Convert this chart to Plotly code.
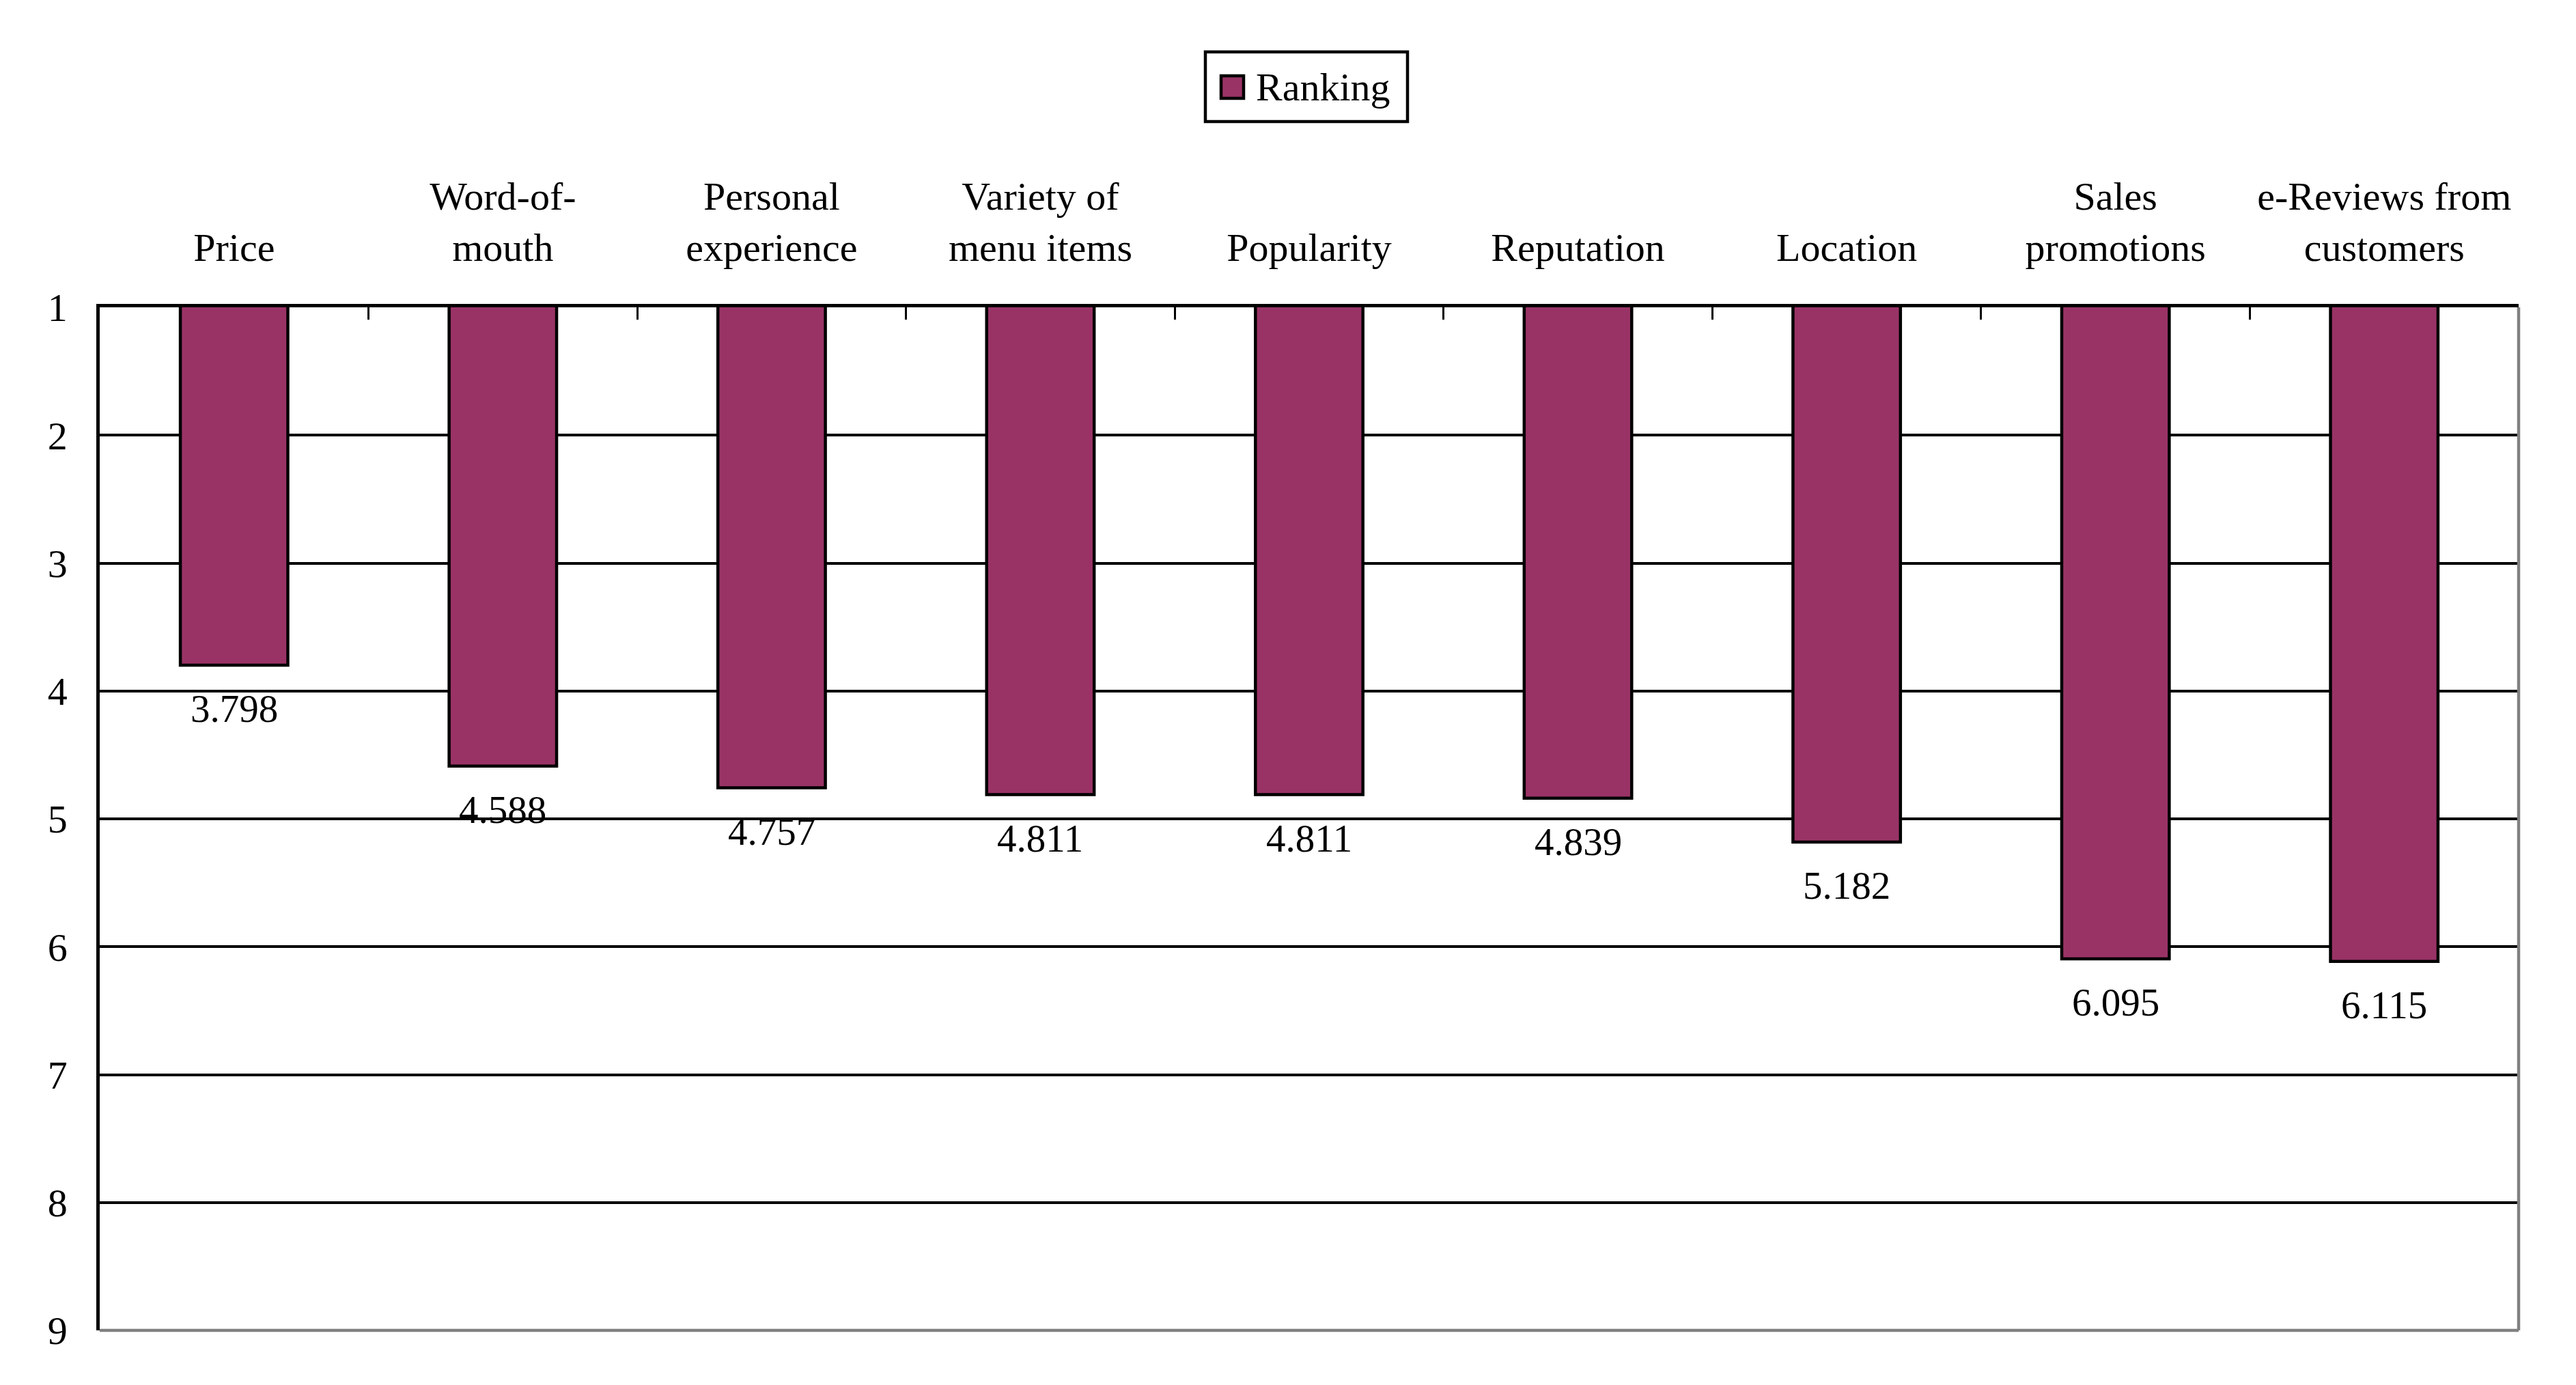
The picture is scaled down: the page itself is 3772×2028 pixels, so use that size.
import plotly.graph_objects as go

categories = ["Price", "Word-of-<br>mouth", "Personal<br>experience", "Variety of<br>menu items",
              "Popularity", "Reputation", "Location", "Sales<br>promotions", "e-Reviews from<br>customers"]
ranking = [3.798, 4.588, 4.757, 4.811, 4.811, 4.839, 5.182, 6.095, 6.115]
value_labels = ["3.798", "4.588", "4.757", "4.811", "4.811", "4.839", "5.182", "6.095", "6.115"]
y_ticks = [1, 2, 3, 4, 5, 6, 7, 8, 9]

W, H = 3772, 2028
L, R, T, B = 146, 84, 450, 80
PW, PH = W - L - R, H - T - B
FONT = "Liberation Serif, Times New Roman, serif"
FS = 58
BAR = "#993366"

def px_x(x):
    return (x - L) / PW

def px_y(y):
    return (H - B - y) / PH

fig = go.Figure()
fig.add_trace(go.Bar(
    x=categories, y=ranking, name="Ranking",
    marker=dict(color=BAR, line=dict(color="black", width=4.5)),
    showlegend=False,
))

annotations = []
for c, v, t in zip(categories, ranking, value_labels):
    annotations.append(dict(x=c, y=v, xref="x", yref="y", text=t, showarrow=False,
                            yanchor="top", yshift=-30,
                            font=dict(family=FONT, size=57, color="black")))

# custom legend
annotations.append(dict(x=px_x(1837), y=px_y(127), xref="paper", yref="paper", text="Ranking",
                        showarrow=False, xanchor="left", yanchor="middle",
                        font=dict(family=FONT, size=FS, color="black")))

shapes = [
    # right and bottom gray border
    dict(type="line", xref="x domain", yref="y domain", x0=1, x1=1, y0=0, y1=1,
         line=dict(color="#808080", width=4.5), layer="above"),
    dict(type="line", xref="x domain", yref="y domain", x0=0, x1=1, y0=0, y1=0,
         line=dict(color="#808080", width=4.5), layer="above"),
    # legend box
    dict(type="rect", xref="paper", yref="paper", x0=px_x(1765), x1=px_x(2061),
         y0=px_y(178), y1=px_y(76), line=dict(color="black", width=4.5), fillcolor="white"),
    dict(type="rect", xref="paper", yref="paper", x0=px_x(1788), x1=px_x(1821),
         y0=px_y(144), y1=px_y(111), line=dict(color="black", width=4.5), fillcolor=BAR),
]

fig.update_layout(
    width=W, height=H,
    margin=dict(l=L, r=R, t=T, b=B, pad=0),
    paper_bgcolor="white", plot_bgcolor="white",
    bargap=0.6,
    font=dict(family=FONT, size=FS, color="black"),
    annotations=annotations, shapes=shapes,
    showlegend=False,
)
fig.update_xaxes(
    side="top", showline=True, linecolor="black", linewidth=4.5,
    ticks="inside", tickson="boundaries", ticklen=18, tickwidth=3, tickcolor="black",
    showgrid=False, tickfont=dict(family=FONT, size=FS, color="black"),
    ticklabelstandoff=40,
)
fig.update_yaxes(
    range=[9, 1], tickvals=y_ticks, ticktext=[str(v) for v in y_ticks],
    showline=True, linecolor="black", linewidth=4.5,
    showgrid=True, gridcolor="black", gridwidth=4,
    ticks="", zeroline=False,
    tickfont=dict(family=FONT, size=FS, color="black"),
    ticklabelstandoff=31,
)

fig.write_html("out.html", config={"displayModeBar": False},
               post_script="document.body.style.margin='0';document.body.style.overflow='hidden';")
